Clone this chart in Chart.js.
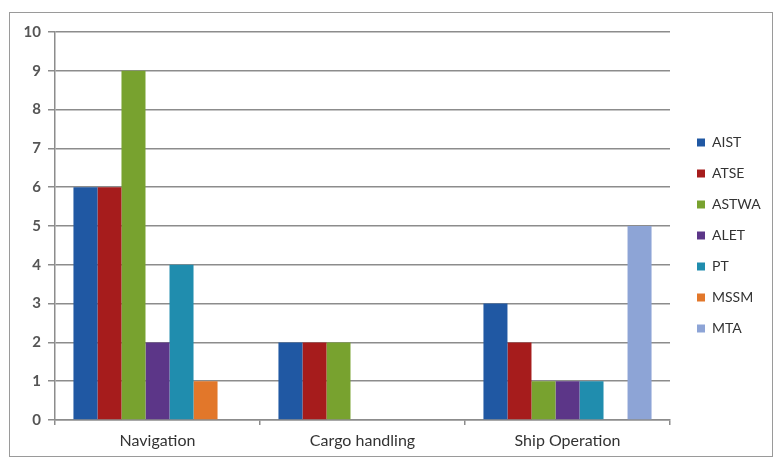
<!DOCTYPE html>
<html>
<head>
<meta charset="utf-8">
<script src="https://cdn.jsdelivr.net/npm/chart.js@4"></script>
<style>
  html, body { margin: 0; padding: 0; background: #fff; }
  #wrap { position: relative; width: 774px; height: 459px; }
  #frame { position: absolute; left: 9px; top: 12px; width: 762px; height: 443px;
           border: 1.5px solid #9a9a9a; pointer-events: none; }
</style>
</head>
<body>
<div id="wrap">
  <canvas id="grafica" width="774" height="459"></canvas>
  <div id="frame"></div>
</div>
<script>
// categorias y series
const categorias = ["Navigation", "Cargo handling", "Ship Operation"];
const series = ["AIST", "ATSE", "ASTWA", "ALET", "PT", "MSSM", "MTA"];
const colores = ["#2058A3", "#A61C1C", "#78A22F", "#5C3688", "#208DAE", "#E2772A", "#8DA4D6"];

const aist  = [6, 2, 3];
const atse  = [6, 2, 2];
const astwa = [9, 2, 1];
const alet  = [2, 0, 1];
const pt    = [4, 0, 1];
const mssm  = [1, 0, 0];
const mta   = [0, 0, 5];

const valores = [aist, atse, astwa, alet, pt, mssm, mta];

const datasets = series.map((nombre, i) => ({
    label: nombre,
    data: valores[i],
    backgroundColor: colores[i],
    borderWidth: 0
}));

// la leyenda se corre un poco, como en el original
const moverLeyenda = {
    id: "moverLeyenda",
    beforeLayout(chart) {
        const lg = chart.legend;
        if (!lg || lg._parchada) return;
        const fit = lg.fit.bind(lg);
        lg.fit = function () { fit(); this.width = 104; };
        const draw = lg.draw.bind(lg);
        lg.draw = function () {
            const dx = 10, dy = -10;
            this.left += dx; this.right += dx; this.top += dy; this.bottom += dy;
            draw();
            this.left -= dx; this.right -= dx; this.top -= dy; this.bottom -= dy;
        };
        lg._parchada = true;
    }
};

new Chart(document.querySelector("#grafica"), {
    type: "bar",
    data: { labels: categorias, datasets },
    plugins: [moverLeyenda],
    options: {
        responsive: false,
        animation: false,
        layout: { padding: { top: 32, left: 0, right: 0, bottom: 0 } },
        datasets: { bar: { categoryPercentage: 0.82, barPercentage: 1 } },
        plugins: {
            tooltip: { enabled: false },
            legend: {
                position: "right",
                labels: {
                    boxWidth: 8,
                    boxHeight: 8,
                    padding: 17,
                    color: "#333",
                    font: { family: "Lato", size: 14 }
                }
            }
        },
        scales: {
            x: {
                afterFit: s => { s.height = 39; },
                grid: { offset: true, drawOnChartArea: false, drawTicks: true, tickLength: 5, color: "#8c8c8c", lineWidth: 1.5 },
                border: { color: "#8c8c8c", width: 1.5 },
                ticks: { padding: 6, color: "#333", font: { family: "Lato", size: 16 } }
            },
            y: {
                min: 0,
                max: 10,
                afterFit: s => { s.width = 55; },
                grid: { color: "#8c8c8c", lineWidth: 1.5, tickLength: 7 },
                border: { color: "#8c8c8c", width: 1.5 },
                ticks: { stepSize: 1, padding: 7, color: "#555", font: { family: "Lato", size: 15, weight: "bold" } }
            }
        }
    }
});
</script>
</body>
</html>
